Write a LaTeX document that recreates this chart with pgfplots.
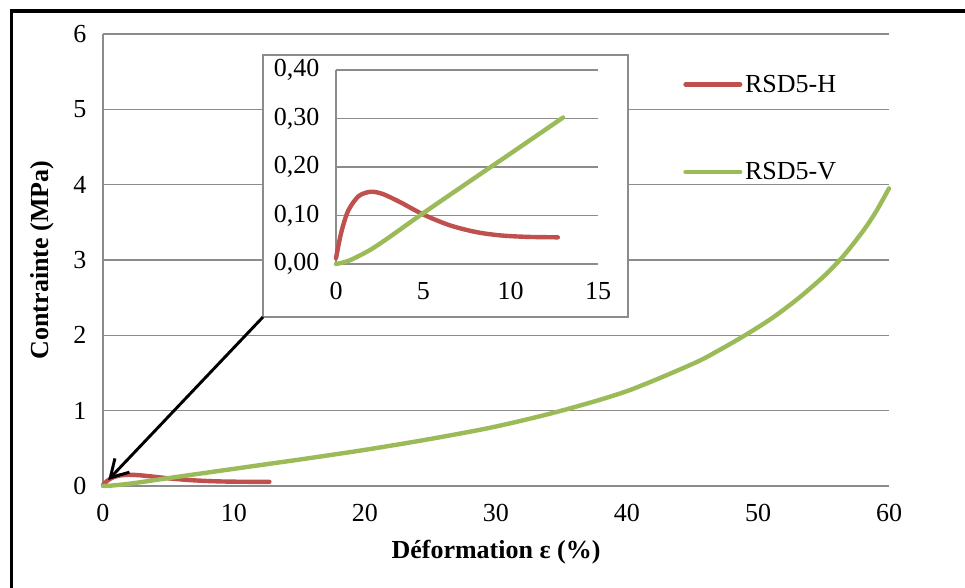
\documentclass[border=0pt]{standalone}
\usepackage{pgfplots}
\pgfplotsset{compat=1.18}
\usepackage{pgfplotstable}
\usepackage{fontspec}
\setmainfont{Liberation Serif}
\usetikzlibrary{arrows.meta}
\definecolor{rsdred}{RGB}{192,80,77}
\definecolor{rsdgreen}{RGB}{155,187,89}
\definecolor{gridgray}{RGB}{140,140,140}

\pgfplotstableread{
x y
0 0.012
0.3 0.065
0.7 0.110
1.3 0.140
2.0 0.149
2.7 0.144
3.7 0.127
5.0 0.102
6.5 0.080
8.0 0.066
9.4 0.059
10.9 0.056
12.7 0.055
}\redH

\pgfplotstableread{
x y
0 0
0.5 0.004
1 0.011
2 0.030
3 0.054
5 0.105
8 0.179
10 0.228
13 0.302
15 0.351
20 0.48
25 0.625
30 0.79
35 1.00
40 1.26
45 1.62
47 1.80
49 2.0
51 2.22
53 2.48
55 2.78
56.5 3.05
58 3.38
59 3.64
60 3.95
}\greenV

\newcommand{\tfont}{\fontsize{19.5}{23}\selectfont}

\begin{document}
\begin{tikzpicture}
\useasboundingbox (-77.25pt,-75.75pt) rectangle (646.5pt,364.5pt);
\begin{axis}[
  at={(0pt,0pt)}, anchor=south west, scale only axis,
  width=589.5pt, height=339pt,
  xmin=0, xmax=60, ymin=0, ymax=6,
  xtick={0,10,...,60}, ytick={0,1,...,6},
  axis x line*=bottom, axis y line*=left,
  axis line style={draw=gridgray, line width=0.8pt, -},
  ymajorgrids, grid style={draw=gridgray, line width=0.8pt},
  major tick length=0pt,
  tick label style={font=\tfont},
  /pgf/number format/assume math mode=true,
  yticklabel style={xshift=-9pt},
  xticklabel style={yshift=-10pt},
  xlabel={Déformation ε (\%)},
  ylabel={Contrainte (MPa)},
  label style={font=\tfont\bfseries},
  xlabel style={at={(axis description cs:0.5,-0.146)}, anchor=center},
  ylabel style={at={(axis description cs:-0.0776,0.5)}, anchor=center},
  clip=false,
  legend style={at={(rel axis cs:0.738,0.916)}, anchor=north west, draw=none, fill=none,
    font=\tfont, row sep=47pt, inner sep=0pt, cells={anchor=west}},
  legend image code/.code={\draw[#1,line width=3.3pt,line cap=round] (0pt,0pt) -- (41pt,0pt);},
]
\addplot[rsdred, line width=3.3pt, line cap=round, smooth] table[x=x,y=y] {\redH};
\addlegendentry{RSD5-H}
\addplot[rsdgreen, line width=3.3pt, line cap=round, smooth] table[x=x,y=y] {\greenV};
\addlegendentry{RSD5-V}
\coordinate (tip) at (axis cs:0.4,0.08);
\end{axis}

\draw[black, line width=2.4pt, line join=miter] (-68.6pt,-80pt) -- (-68.6pt,356.25pt) -- (660pt,356.25pt);
\draw[gridgray, line width=1.2pt, fill=white] (120pt,126.75pt) rectangle (393.75pt,323.25pt);
\draw[black, line width=2.2pt, -{Straight Barb[length=13pt,width=15pt,line width=2.2pt]}] (120pt,126.75pt) -- (tip);

\begin{axis}[
  at={(174.75pt,166.5pt)}, anchor=south west, scale only axis,
  width=196.5pt, height=145.5pt,
  xmin=0, xmax=15, ymin=0, ymax=0.4,
  xtick={0,5,10,15}, ytick={0,0.1,0.2,0.3,0.4},
  scaled y ticks=false,
  axis x line*=bottom, axis y line*=left,
  axis line style={draw=gridgray, line width=0.8pt, -},
  ymajorgrids, grid style={draw=gridgray, line width=0.8pt},
  major tick length=0pt,
  tick label style={font=\tfont},
  /pgf/number format/assume math mode=true,
  yticklabel style={xshift=-9pt, /pgf/number format/.cd, fixed, fixed zerofill, precision=2, use comma},
  xticklabel style={yshift=-10pt},
  clip=false,
]
\addplot[rsdred, line width=3.3pt, line cap=round, smooth] table[x=x,y=y] {\redH};
\addplot[rsdgreen, line width=3.3pt, line cap=round, smooth, restrict x to domain=0:13.1] table[x=x,y=y] {\greenV};
\end{axis}
\end{tikzpicture}
\end{document}
